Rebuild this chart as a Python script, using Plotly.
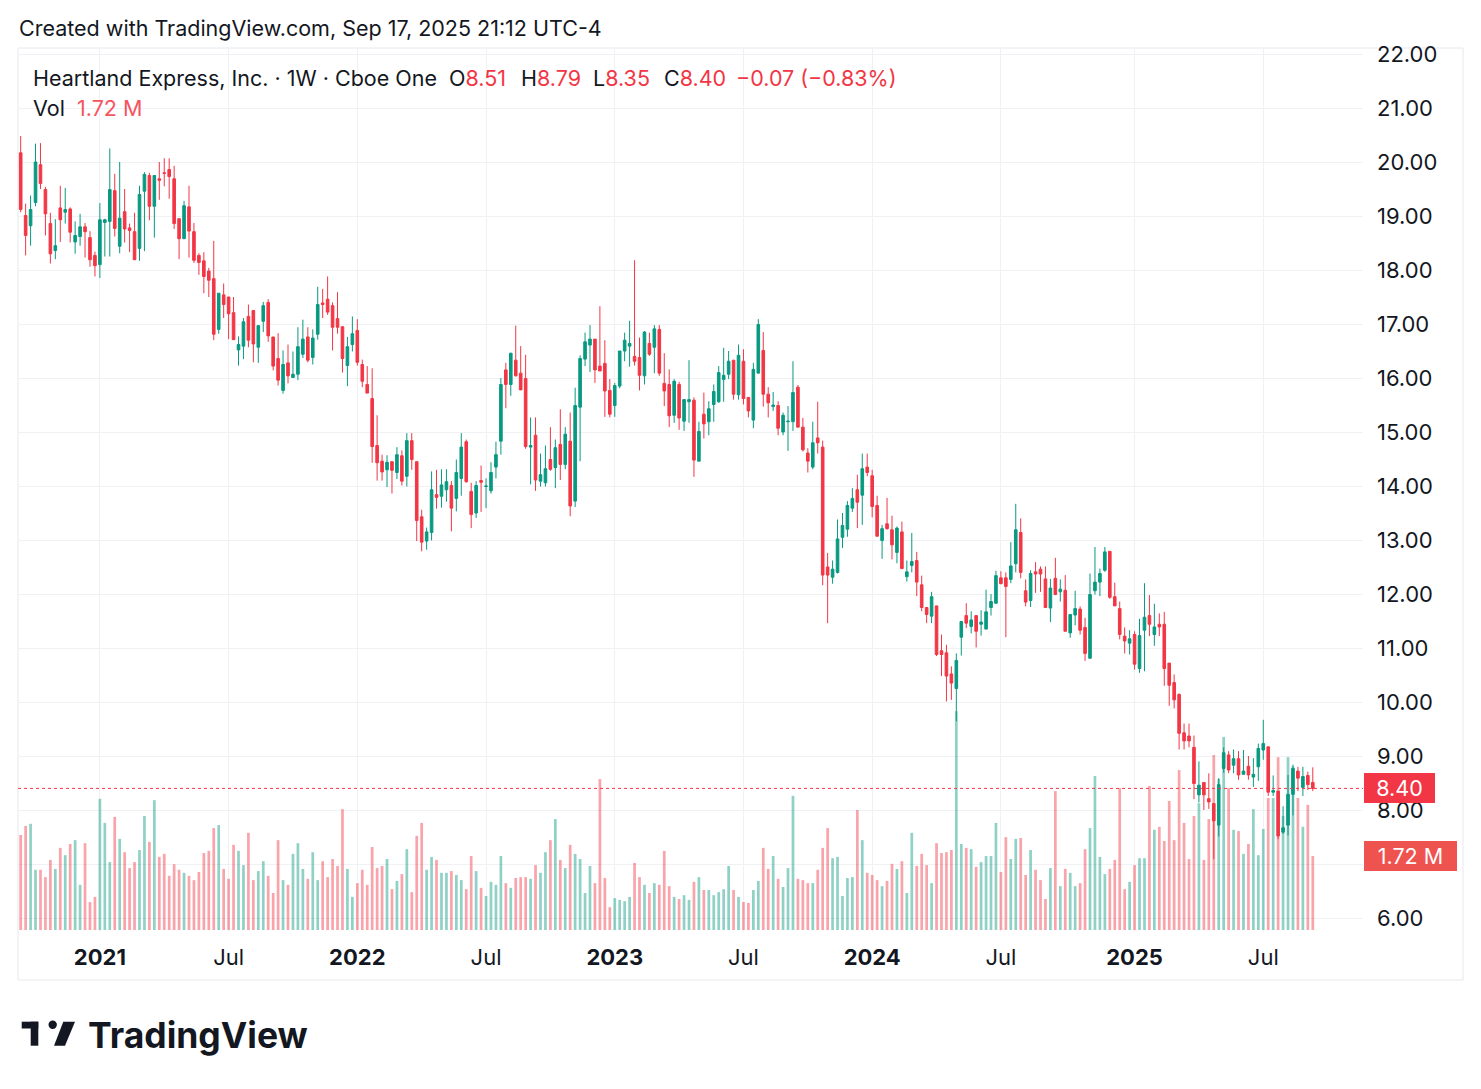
import pandas as pd
import plotly.graph_objects as go

# weekly bars, Cboe One, Heartland Express (HTLD)
dates = pd.date_range("2020-09-14", periods=262, freq="7D")

opens = [
    20.17, 19.01, 18.82, 19.25, 19.95, 19.49, 18.86, 18.36, 19.15, 19.07,
    19.13, 18.52, 18.62, 18.80, 18.60, 18.27, 18.10, 18.88, 18.90, 19.47,
    18.44, 19.08, 18.78, 18.71, 18.40, 19.46, 19.75, 19.18, 19.69, 19.80,
    19.86, 19.69, 18.95, 18.58, 19.17, 18.71, 18.27, 18.17, 17.98, 17.84,
    16.90, 17.54, 17.50, 17.21, 16.52, 16.59, 17.14, 17.25, 16.57, 17.05,
    17.40, 16.76, 16.36, 15.77, 16.28, 16.01, 16.07, 16.44, 16.76, 16.38,
    16.81, 17.39, 17.46, 17.34, 17.10, 16.95, 16.23, 16.62, 16.88, 16.25,
    15.88, 15.62, 14.75, 14.46, 14.30, 14.45, 14.25, 14.56, 14.18, 14.84,
    14.45, 13.43, 12.98, 13.14, 13.84, 13.81, 13.93, 14.01, 13.77, 14.14,
    14.82, 13.90, 13.50, 14.10, 13.99, 13.91, 14.35, 14.83, 16.15, 15.88,
    16.33, 16.09, 15.99, 14.72, 14.94, 14.09, 14.06, 14.49, 14.34, 14.77,
    14.40, 14.83, 13.72, 15.46, 16.35, 16.61, 16.72, 16.22, 16.27, 15.77,
    15.49, 15.85, 16.50, 16.59, 16.40, 16.38, 16.04, 16.64, 16.57, 16.90,
    15.90, 15.88, 15.31, 15.88, 15.20, 15.56, 15.59, 14.46, 15.33, 15.19,
    15.51, 15.56, 15.97, 16.07, 16.33, 15.69, 16.31, 15.64, 15.22, 16.09,
    16.51, 15.70, 15.47, 15.49, 15.00, 15.19, 15.19, 15.83, 15.09, 14.61,
    14.35, 14.89, 14.72, 12.50, 12.31, 12.40, 13.05, 13.20, 13.59, 13.93,
    13.83, 14.35, 14.19, 13.64, 12.99, 13.30, 13.19, 12.77, 13.15, 12.32,
    12.53, 12.62, 12.17, 11.75, 11.59, 11.78, 10.95, 10.91, 10.52, 10.25,
    11.20, 11.60, 11.40, 11.60, 11.44, 11.35, 11.75, 11.83, 12.30, 12.30,
    12.27, 12.56, 13.14, 12.06, 11.88, 12.41, 12.46, 12.28, 11.74, 12.29,
    12.04, 12.07, 11.28, 11.61, 11.72, 11.38, 10.81, 12.06, 12.22, 12.44,
    12.79, 11.95, 11.73, 11.22, 11.09, 11.25, 10.62, 11.33, 11.60, 11.25,
    11.44, 11.44, 10.72, 10.36, 10.14, 9.43, 9.37, 9.16, 8.28, 8.51,
    8.21, 8.12, 7.72, 8.77, 9.02, 8.83, 8.95, 8.66, 8.81, 8.61,
    8.80, 9.11, 9.17, 8.33, 8.35, 7.59, 7.72, 8.29, 8.72, 8.42,
    8.64, 8.51,
]
highs = [
    20.48, 19.23, 19.38, 20.34, 20.35, 19.54, 19.06, 18.94, 19.56, 19.52,
    19.16, 18.90, 19.04, 18.87, 18.72, 18.34, 19.24, 18.95, 20.25, 19.78,
    20.00, 19.50, 18.86, 19.06, 19.56, 19.81, 19.80, 19.75, 20.00, 20.07,
    20.07, 19.93, 18.95, 19.28, 19.56, 18.87, 18.31, 18.33, 18.04, 18.54,
    17.57, 17.75, 17.50, 17.50, 16.77, 17.11, 17.36, 17.25, 16.97, 17.41,
    17.46, 16.76, 16.83, 16.51, 16.62, 16.49, 16.94, 17.08, 16.94, 16.90,
    17.69, 17.65, 17.88, 17.40, 17.59, 16.95, 16.76, 17.14, 17.09, 16.34,
    16.22, 16.18, 15.31, 14.58, 14.57, 14.45, 14.72, 14.66, 14.98, 14.98,
    14.45, 13.56, 13.23, 14.27, 14.30, 14.31, 14.31, 14.09, 14.49, 14.98,
    14.86, 14.06, 14.09, 14.38, 14.14, 14.44, 14.82, 16.00, 16.28, 16.46,
    16.97, 16.59, 16.43, 15.27, 15.27, 14.60, 14.75, 15.09, 14.86, 15.42,
    15.09, 15.36, 15.82, 16.42, 16.84, 16.98, 16.72, 17.33, 16.70, 15.98,
    15.91, 16.50, 16.84, 17.06, 18.18, 16.75, 16.87, 16.84, 16.98, 16.98,
    16.46, 16.16, 15.98, 15.93, 15.60, 16.33, 15.64, 15.19, 15.73, 15.57,
    15.88, 16.22, 16.56, 16.50, 16.33, 16.62, 16.53, 15.64, 16.28, 17.09,
    16.85, 15.83, 15.74, 15.57, 15.36, 15.48, 16.31, 15.87, 15.26, 14.70,
    15.19, 15.56, 14.84, 12.76, 12.62, 13.38, 13.50, 13.72, 13.96, 14.21,
    14.60, 14.60, 14.30, 13.82, 13.28, 13.78, 13.45, 13.25, 13.34, 12.62,
    13.13, 12.78, 12.34, 11.75, 12.04, 11.78, 11.25, 11.06, 10.66, 10.90,
    11.49, 11.83, 11.68, 11.60, 11.70, 12.08, 12.00, 12.43, 12.42, 12.40,
    12.96, 13.67, 13.40, 12.27, 12.44, 12.59, 12.51, 12.51, 12.28, 12.67,
    12.27, 12.35, 11.62, 12.06, 11.77, 11.56, 12.38, 12.87, 12.47, 12.87,
    12.79, 12.21, 11.86, 11.38, 11.33, 11.31, 11.54, 12.20, 11.98, 11.82,
    11.64, 11.67, 10.72, 10.51, 10.16, 9.60, 9.60, 9.38, 8.90, 8.51,
    8.68, 8.12, 8.59, 9.16, 9.09, 9.12, 9.09, 9.11, 9.00, 8.96,
    9.23, 9.67, 9.17, 8.64, 8.35, 8.07, 8.65, 8.84, 8.80, 8.80,
    8.71, 8.79,
]
lows = [
    19.07, 18.27, 18.45, 19.18, 19.50, 18.64, 18.12, 18.20, 18.52, 18.86,
    18.51, 18.30, 18.45, 18.23, 18.06, 17.88, 17.85, 18.25, 18.25, 18.62,
    18.31, 18.51, 18.33, 18.19, 18.17, 18.35, 18.92, 18.60, 19.30, 19.55,
    19.32, 18.76, 18.20, 18.58, 18.23, 18.13, 17.91, 17.57, 17.50, 16.70,
    16.82, 17.11, 16.72, 16.71, 16.23, 16.35, 16.57, 16.29, 16.28, 16.85,
    16.67, 16.14, 15.86, 15.71, 15.90, 16.00, 15.96, 16.37, 16.29, 16.25,
    16.71, 17.11, 17.17, 16.51, 16.82, 16.10, 15.85, 16.49, 16.23, 15.83,
    15.72, 14.43, 14.10, 14.10, 13.98, 13.86, 14.13, 14.01, 13.99, 14.30,
    12.98, 12.79, 12.82, 12.99, 13.58, 13.60, 13.71, 13.16, 13.53, 13.82,
    14.06, 13.22, 13.41, 13.52, 13.59, 13.86, 14.14, 14.58, 15.44, 15.67,
    16.03, 15.78, 14.69, 14.03, 13.91, 13.99, 13.99, 14.28, 13.96, 14.11,
    14.31, 13.44, 13.61, 14.46, 16.22, 16.11, 15.91, 16.13, 15.28, 15.27,
    15.28, 15.81, 16.31, 16.21, 16.23, 15.77, 15.88, 16.41, 16.09, 16.04,
    15.48, 15.09, 15.17, 15.04, 15.02, 15.17, 14.17, 14.46, 14.88, 14.94,
    15.19, 15.54, 15.56, 15.98, 15.60, 15.60, 15.51, 15.27, 15.07, 16.09,
    15.47, 15.27, 15.39, 14.94, 14.94, 14.65, 15.02, 15.09, 14.64, 14.25,
    14.31, 14.60, 12.16, 11.46, 12.19, 12.38, 12.85, 13.06, 13.52, 13.22,
    13.28, 14.18, 13.42, 13.07, 12.65, 13.19, 12.64, 12.57, 12.47, 12.23,
    12.40, 11.96, 11.68, 11.46, 11.46, 10.85, 10.48, 10.01, 10.04, 9.64,
    10.86, 11.37, 11.27, 11.01, 11.23, 11.35, 11.60, 11.82, 12.19, 11.20,
    12.20, 12.40, 12.29, 11.77, 11.76, 12.02, 12.04, 11.75, 11.48, 11.98,
    11.86, 11.31, 11.19, 11.42, 11.25, 10.76, 10.81, 11.99, 11.96, 12.41,
    11.91, 11.78, 11.16, 10.90, 10.88, 10.60, 10.54, 10.57, 11.22, 11.04,
    11.22, 10.30, 9.93, 9.88, 9.12, 9.12, 9.16, 8.20, 8.14, 8.00,
    8.02, 7.09, 7.51, 8.69, 8.68, 8.68, 8.56, 8.66, 8.56, 8.43,
    8.54, 8.93, 8.26, 8.26, 7.46, 7.56, 7.53, 7.90, 8.35, 8.26,
    8.37, 8.35,
]
closes = [
    19.12, 18.64, 19.12, 20.00, 19.60, 19.04, 18.30, 18.45, 18.93, 19.12,
    18.70, 18.64, 18.80, 18.71, 18.19, 18.08, 18.93, 18.93, 19.49, 18.77,
    18.96, 18.76, 18.73, 18.19, 19.40, 19.77, 19.18, 19.75, 19.66, 19.79,
    19.73, 18.86, 18.58, 19.19, 18.72, 18.18, 18.14, 17.88, 17.81, 16.81,
    17.57, 17.36, 17.19, 16.71, 16.62, 17.04, 16.70, 16.63, 16.97, 17.34,
    16.78, 16.22, 15.96, 16.25, 16.04, 16.07, 16.58, 16.72, 16.33, 16.74,
    17.36, 17.36, 17.22, 16.94, 16.94, 16.36, 16.58, 16.82, 16.29, 15.94,
    15.72, 14.73, 14.43, 14.26, 14.44, 14.29, 14.58, 14.09, 14.84, 14.49,
    13.36, 12.96, 13.15, 13.93, 13.79, 14.02, 14.08, 13.59, 14.25, 14.72,
    14.08, 13.47, 14.01, 14.07, 14.00, 14.25, 14.58, 15.88, 15.88, 16.46,
    16.04, 15.78, 14.73, 14.75, 14.11, 14.21, 14.32, 14.31, 14.71, 14.40,
    14.96, 13.63, 15.49, 16.36, 16.67, 16.72, 16.15, 16.13, 15.76, 15.33,
    15.86, 16.50, 16.70, 16.64, 16.31, 16.05, 16.85, 16.44, 16.91, 16.09,
    15.76, 15.30, 15.94, 15.26, 15.60, 15.60, 14.48, 15.01, 15.15, 15.43,
    15.75, 16.10, 16.05, 16.31, 15.70, 16.42, 15.62, 15.39, 16.16, 16.99,
    15.70, 15.54, 15.50, 15.07, 15.31, 15.20, 15.73, 15.09, 14.67, 14.46,
    14.80, 14.80, 12.35, 12.35, 12.46, 13.02, 13.27, 13.64, 13.77, 13.70,
    14.32, 14.25, 13.62, 13.07, 13.21, 13.21, 12.91, 13.22, 12.47, 12.41,
    12.60, 12.22, 11.75, 11.62, 11.95, 10.88, 10.88, 10.48, 10.35, 10.77,
    11.49, 11.46, 11.52, 11.31, 11.48, 11.67, 11.86, 12.34, 12.19, 12.14,
    12.52, 13.19, 12.40, 11.85, 12.38, 12.37, 12.37, 11.75, 12.11, 11.99,
    12.09, 11.31, 11.62, 11.73, 11.33, 10.90, 11.99, 12.22, 12.38, 12.78,
    11.94, 11.78, 11.25, 11.13, 11.17, 10.70, 11.23, 11.57, 11.44, 11.39,
    11.39, 10.62, 10.31, 10.04, 9.42, 9.28, 9.28, 8.49, 8.46, 8.28,
    8.15, 7.80, 8.47, 9.06, 8.74, 8.95, 8.65, 8.72, 8.65, 8.66,
    9.14, 9.23, 8.33, 8.36, 7.52, 7.67, 8.29, 8.77, 8.59, 8.62,
    8.47, 8.40,
]
# volume in millions of shares
volumes_m = [
    2.21, 2.42, 2.47, 1.40, 1.40, 1.23, 1.63, 1.42, 1.91, 1.74,
    2.00, 2.09, 1.05, 2.02, 0.65, 0.77, 3.05, 2.49, 1.58, 2.63,
    2.12, 1.81, 1.44, 1.58, 1.86, 2.65, 2.05, 3.02, 1.70, 1.77,
    1.26, 1.53, 1.40, 1.33, 1.26, 1.16, 1.35, 1.79, 1.84, 2.37,
    2.44, 1.42, 1.19, 1.98, 1.84, 1.51, 2.26, 1.16, 1.37, 1.60,
    1.26, 0.86, 2.09, 1.16, 1.05, 1.77, 2.02, 1.42, 1.19, 1.81,
    1.16, 1.60, 1.23, 1.65, 1.49, 2.81, 1.42, 0.77, 1.09, 1.40,
    1.05, 1.93, 1.44, 1.49, 1.65, 0.95, 1.14, 1.30, 1.88, 0.88,
    2.19, 2.49, 1.40, 1.70, 1.63, 1.33, 1.33, 1.37, 1.28, 1.16,
    0.95, 1.72, 1.37, 0.98, 0.79, 1.12, 1.05, 1.72, 1.09, 0.98,
    1.21, 1.23, 1.23, 1.19, 1.51, 1.33, 1.81, 2.09, 2.58, 1.63,
    1.44, 1.98, 1.77, 1.65, 0.86, 1.49, 1.09, 3.51, 1.21, 0.53,
    0.74, 0.70, 0.67, 0.77, 1.56, 1.23, 1.05, 0.86, 1.09, 1.05,
    1.84, 1.02, 0.77, 0.72, 0.81, 0.70, 1.12, 1.23, 0.93, 0.93,
    0.81, 0.88, 0.95, 1.49, 0.93, 0.77, 0.65, 0.63, 0.93, 1.14,
    1.91, 1.42, 1.72, 1.19, 1.00, 1.44, 3.12, 1.19, 1.16, 1.09,
    1.09, 1.40, 1.91, 2.37, 1.67, 1.70, 0.79, 1.21, 1.23, 2.79,
    2.09, 1.33, 1.28, 1.16, 1.02, 1.14, 1.54, 1.42, 1.60, 0.86,
    2.26, 1.49, 1.77, 1.51, 1.09, 2.02, 1.79, 1.81, 1.86, 5.09,
    2.00, 1.91, 1.88, 1.47, 1.58, 1.72, 1.72, 2.49, 1.35, 2.16,
    1.65, 2.12, 2.14, 1.28, 1.86, 1.40, 1.16, 0.72, 1.44, 3.23,
    1.02, 1.42, 1.33, 1.02, 1.09, 1.88, 2.37, 3.58, 1.70, 1.30,
    1.42, 1.63, 3.30, 0.95, 1.12, 1.51, 1.67, 1.67, 3.35, 2.33,
    2.40, 2.07, 3.00, 2.09, 3.72, 2.49, 1.65, 2.65, 2.95, 1.63,
    2.58, 4.07, 3.51, 4.49, 3.30, 2.33, 2.30, 1.77, 2.00, 2.81,
    1.74, 2.35, 3.07, 3.07, 4.02, 2.65, 4.02, 3.81, 3.07, 2.40,
    2.91, 1.72,
]

tick_dates = ["2021-01-04", "2021-07-05", "2022-01-03", "2022-07-04", "2023-01-02",
              "2023-07-03", "2024-01-01", "2024-07-01", "2025-01-06", "2025-07-07"]
tick_text = ["<b>2021</b>", "Jul", "<b>2022</b>", "Jul", "<b>2023</b>",
             "Jul", "<b>2024</b>", "Jul", "<b>2025</b>", "Jul"]
price_ticks = [6, 7, 8, 9, 10, 11, 12, 13, 14, 15, 16, 17, 18, 19, 20, 21, 22]
# 7.00 sits under the volume label on the scale, so it is not shown
price_labels = ["6.00", "", "8.00", "9.00", "10.00", "11.00", "12.00", "13.00", "14.00",
                "15.00", "16.00", "17.00", "18.00", "19.00", "20.00", "21.00", "22.00"]

GREEN = "#089981"
RED = "#F23645"
TEXT = "#131722"
GRID = "#eff1f4"
FONT = "Inter, Noto Sans, sans-serif"

# page body adds 8px, so the figure is drawn 8px smaller and all
# positions below are given in screenshot pixels
OFF = 8
W, H = 1481 - OFF, 1089 - OFF
L, R, T, B = 18, 1363, 48, 932


def px(x):
    return (x - L) / (R - L)


def py(y):
    return (B - y) / (B - T)


vol_colors = ["rgba(8,153,129,0.45)" if c >= o else "rgba(242,54,69,0.45)"
              for o, c in zip(opens, closes)]

fig = go.Figure()
fig.add_trace(go.Bar(
    x=dates, y=[v * 1e6 for v in volumes_m], marker_color=vol_colors,
    marker_line_width=0, yaxis="y", showlegend=False, hoverinfo="skip",
))
fig.add_trace(go.Candlestick(
    x=dates, open=opens, high=highs, low=lows, close=closes,
    increasing=dict(line=dict(color=GREEN, width=1), fillcolor=GREEN),
    decreasing=dict(line=dict(color=RED, width=1), fillcolor=RED),
    whiskerwidth=0, yaxis="y2", showlegend=False,
))

x0 = dates[0] - pd.Timedelta(hours=91)
x1 = dates[-1] + pd.Timedelta(days=71)

FS = 21.5
annotations = [
    dict(x=px(17), y=py(28), text="Created with TradingView.com, Sep 17, 2025 21:12 UTC-4",
         font=dict(size=FS, color=TEXT)),
    dict(x=px(31), y=py(78), text="Heartland Express, Inc. · 1W · Cboe One",
         font=dict(size=FS, color=TEXT)),
    dict(x=px(447), y=py(78), text="O<span style='color:#F23645'>8.51</span>",
         font=dict(size=FS, color=TEXT)),
    dict(x=px(519), y=py(78), text="H<span style='color:#F23645'>8.79</span>",
         font=dict(size=FS, color=TEXT)),
    dict(x=px(591), y=py(78), text="L<span style='color:#F23645'>8.35</span>",
         font=dict(size=FS, color=TEXT)),
    dict(x=px(662), y=py(78), text="C<span style='color:#F23645'>8.40</span>",
         font=dict(size=FS, color=TEXT)),
    dict(x=px(734), y=py(78), text="−0.07 (−0.83%)",
         font=dict(size=FS, color=RED)),
    dict(x=px(31), y=py(108), text="Vol", font=dict(size=FS, color=TEXT)),
    dict(x=px(75), y=py(108), text="1.72 M", font=dict(size=FS, color="#F7525F")),
    dict(x=px(86), y=py(1035), text="<b>TradingView</b>", font=dict(size=35.5, color=TEXT)),
]
for a in annotations:
    a.update(xref="paper", yref="paper", xanchor="left", yanchor="middle",
             showarrow=False)

# last price / last volume labels on the price scale
annotations.append(dict(
    x=px(1364), y=8.40, xref="paper", yref="y2", xanchor="left", yanchor="middle",
    text="8.40", showarrow=False, bgcolor=RED, borderwidth=0, borderpad=3,
    width=65, height=24, font=dict(size=21.5, color="white"),
))
annotations.append(dict(
    x=px(1364), y=1.72e6, xref="paper", yref="y", xanchor="left", yanchor="middle",
    text="1.72 M", showarrow=False, bgcolor="#EF5350", borderwidth=0, borderpad=3,
    width=87, height=24, font=dict(size=21.5, color="white"),
))

shapes = [
    dict(type="line", xref="paper", yref="y2", x0=0, x1=1, y0=8.40, y1=8.40,
         line=dict(color=RED, width=1, dash="dot")),
    dict(type="rect", xref="paper", yref="paper", x0=px(18), x1=px(1463),
         y0=py(980), y1=py(48), line=dict(color="#e6e8ec", width=1), layer="below"),
    # TradingView logo mark
    dict(type="rect", xref="paper", yref="paper", x0=px(21.7), x1=px(38.3),
         y0=py(1028.5), y1=py(1021.7), fillcolor=TEXT, line_width=0),
    dict(type="rect", xref="paper", yref="paper", x0=px(30.7), x1=px(38.3),
         y0=py(1045.7), y1=py(1021.7), fillcolor=TEXT, line_width=0),
    dict(type="circle", xref="paper", yref="paper", x0=px(48.5), x1=px(56.9),
         y0=py(1029), y1=py(1020.6), fillcolor=TEXT, line_width=0),
    dict(type="path", xref="paper", yref="paper", fillcolor=TEXT, line_width=0,
         path="M {:.5f},{:.5f} L {:.5f},{:.5f} L {:.5f},{:.5f} L {:.5f},{:.5f} Z".format(
             px(63.3), py(1021.7), px(75), py(1021.7), px(65), py(1045.7), px(54), py(1045.7))),
]

fig.update_layout(
    width=W, height=H,
    margin=dict(l=L - OFF, r=1481 - R, t=T - OFF, b=1089 - B),
    paper_bgcolor="white", plot_bgcolor="white",
    font=dict(family=FONT, color=TEXT),
    bargap=0.45, boxgap=0.25,
    showlegend=False, hovermode=False,
    xaxis=dict(
        type="date", range=[x0, x1], tickvals=tick_dates, ticktext=tick_text,
        showgrid=True, gridcolor=GRID, gridwidth=1, zeroline=False, showline=False,
        ticks="", tickfont=dict(size=22, color=TEXT), ticklabelstandoff=10,
        rangeslider=dict(visible=False), fixedrange=True,
    ),
    yaxis=dict(
        range=[-2 / 43 * 1e6, (930 - 48) / 43 * 1e6], visible=False,
        showgrid=False, zeroline=False, fixedrange=True,
    ),
    yaxis2=dict(
        overlaying="y", side="right", range=[22 - (B - 54) / 54, 22 + (54 - T) / 54],
        tickvals=price_ticks, ticktext=price_labels, showgrid=True, gridcolor=GRID,
        gridwidth=1, zeroline=False, showline=False, ticks="",
        tickfont=dict(size=22, color=TEXT), ticklabelstandoff=13, fixedrange=True,
    ),
    annotations=annotations,
    shapes=shapes,
)

fig.write_html("out.html")
